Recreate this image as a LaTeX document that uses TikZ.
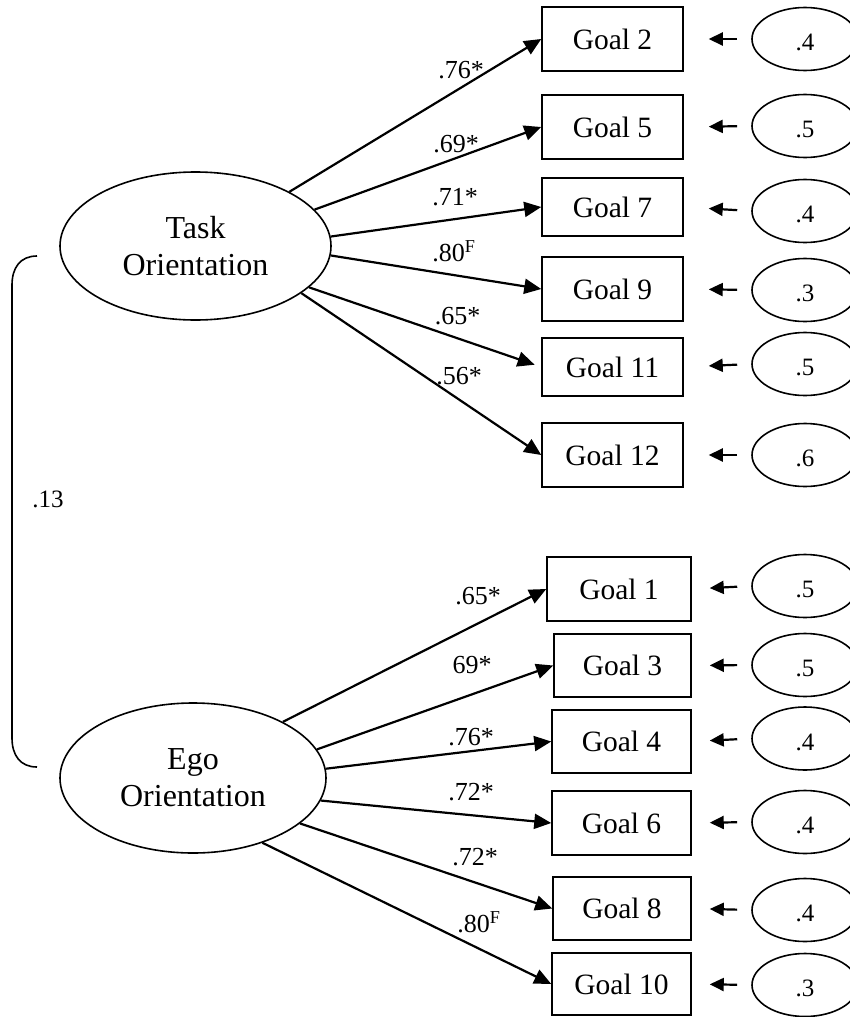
\documentclass[tikz,border=0pt]{standalone}
\usepackage{fontspec}
\setmainfont{Liberation Serif}
\usetikzlibrary{arrows.meta,shapes.geometric}
\begin{document}
\begin{tikzpicture}[x=1pt,y=-1pt,
 goal/.style={draw,line width=1.5pt,minimum width=141pt,minimum height=64pt,inner sep=0pt,font=\fontsize{29.5}{33}\selectfont},
 latent/.style={draw,ellipse,line width=1.6pt,minimum width=271pt,minimum height=148pt,inner sep=0pt,align=center,font=\fontsize{32}{37}\selectfont},
 err/.style={draw,ellipse,line width=1.6pt,minimum width=106pt,minimum height=63pt,inner sep=0pt,text height=23pt,text depth=0pt,font=\fontsize{25}{28}\selectfont},
 load/.style={-{Triangle[length=17pt,width=15pt]},line width=2.2pt},
 erra/.style={-{Triangle[length=14pt,width=13pt]},line width=2.2pt,shorten <=14pt},
 lab/.style={font=\fontsize{26}{29}\selectfont,inner sep=0pt}]
\useasboundingbox (0,0) rectangle (849,1017);

% latent factors
\node[latent] (task) at (195.5,246) {Task\\Orientation};
\node[latent,minimum width=266pt,minimum height=150pt] (ego) at (193,778) {Ego\\Orientation};

% task indicators
\node[goal] (g2)  at (612.5,39)  {Goal 2};
\node[goal] (g5)  at (612.5,127) {Goal 5};
\node[goal,minimum height=58pt] (g7)  at (612.5,207) {Goal 7};
\node[goal] (g9)  at (612.5,289) {Goal 9};
\node[goal,minimum height=58pt] (g11) at (612.5,367) {Goal 11};
\node[goal] (g12) at (612.5,455) {Goal 12};

% ego indicators
\node[goal,minimum width=144pt] (g1)  at (619,589)   {Goal 1};
\node[goal,minimum width=137pt,minimum height=63pt] (g3)  at (622.5,665.5) {Goal 3};
\node[goal,minimum width=139pt,minimum height=63pt] (g4)  at (621.5,741.5) {Goal 4};
\node[goal,minimum width=139pt] (g6)  at (621.5,823) {Goal 6};
\node[goal,minimum width=138pt,minimum height=63pt] (g8)  at (622,908.5) {Goal 8};
\node[goal,minimum width=139pt,minimum height=62pt] (g10) at (621.5,984) {Goal 10};

% error terms
\node[err] (e2)  at (805,39)  {.4};
\node[err] (e5)  at (805,126) {.5};
\node[err] (e7)  at (805,211) {.4};
\node[err] (e9)  at (805,290) {.3};
\node[err] (e11) at (805,364) {.5};
\node[err] (e12) at (805,455) {.6};
\node[err] (e1)  at (805,586) {.5};
\node[err] (e3)  at (805,665) {.5};
\node[err] (e4)  at (805,738.5) {.4};
\node[err] (e6)  at (805,822) {.4};
\node[err] (e8)  at (805,910) {.4};
\node[err] (e10) at (805,985) {.3};

% loadings task
\draw[load] (task.30.1) -- (g2.west);
\draw[load] (task.17) -- (g5.west);
\draw[load] (task.4.2) -- (g7.west);
\draw[load] (task.-4.8) -- (g9.west);
\draw[load,shorten >=7pt] (task.-20.7) -- (g11.west);
\draw[load] (task.-24.5) -- (g12.west);

% loadings ego
\draw[load] (ego.32.9) -- (g1.west);
\draw[load] (ego.13.2) -- (g3.west);
\draw[load] (ego.4.4) -- (g4.west);
\draw[load] (ego.-10.7) -- (g6.west);
\draw[load] (ego.-23.7) -- (g8.west);
\draw[load] (ego.-43) -- (g10.west);

% loading labels
\node[lab] (l2)  at (461,70)  {.76*};
\node[lab] (l5)  at (456,144) {.69*};
\node[lab] (l7)  at (455,197) {.71*};
\node[lab] (l9)  at (454,251) {.80\textsuperscript{F}};
\node[lab] (l11) at (457.5,316) {.65*};
\node[lab] (l12) at (459,376) {.56*};
\node[lab] (l1)  at (478,596) {.65*};
\node[lab] (l3)  at (472,665) {69*};
\node[lab] (l4)  at (471,737) {.76*};
\node[lab] (l6)  at (471,792) {.72*};
\node[lab] (l8)  at (475,857) {.72*};
\node[lab] (l10) at (479,922) {.80\textsuperscript{F}};

% error arrows
\draw[erra,shorten >=25pt] (e2.west) -- (g2.east);
\draw[erra,shorten >=25pt] (e5.west) -- (g5.east);
\draw[erra,shorten >=25pt] (e7.west) -- (g7.east);
\draw[erra,shorten >=25pt] (e9.west) -- (g9.east);
\draw[erra,shorten >=25pt] (e11.west) -- (g11.east);
\draw[erra,shorten >=25pt] (e12.west) -- (g12.east);
\draw[erra,shorten >=18pt] (e1.west) -- (g1.east);
\draw[erra,shorten >=18pt] (e3.west) -- (g3.east);
\draw[erra,shorten >=18pt] (e4.west) -- (g4.east);
\draw[erra,shorten >=18pt] (e6.west) -- (g6.east);
\draw[erra,shorten >=18pt] (e8.west) -- (g8.east);
\draw[erra,shorten >=18pt] (e10.west) -- (g10.east);

% correlation bracket
\draw[line width=1.6pt] (37,256) .. controls (20,256) and (12,268) .. (12,285) -- (12,738) .. controls (12,755) and (20,767) .. (37,767);
\node[font=\fontsize{25}{28}\selectfont,inner sep=0pt] (r) at (48,499) {.13};
\end{tikzpicture}
\end{document}
